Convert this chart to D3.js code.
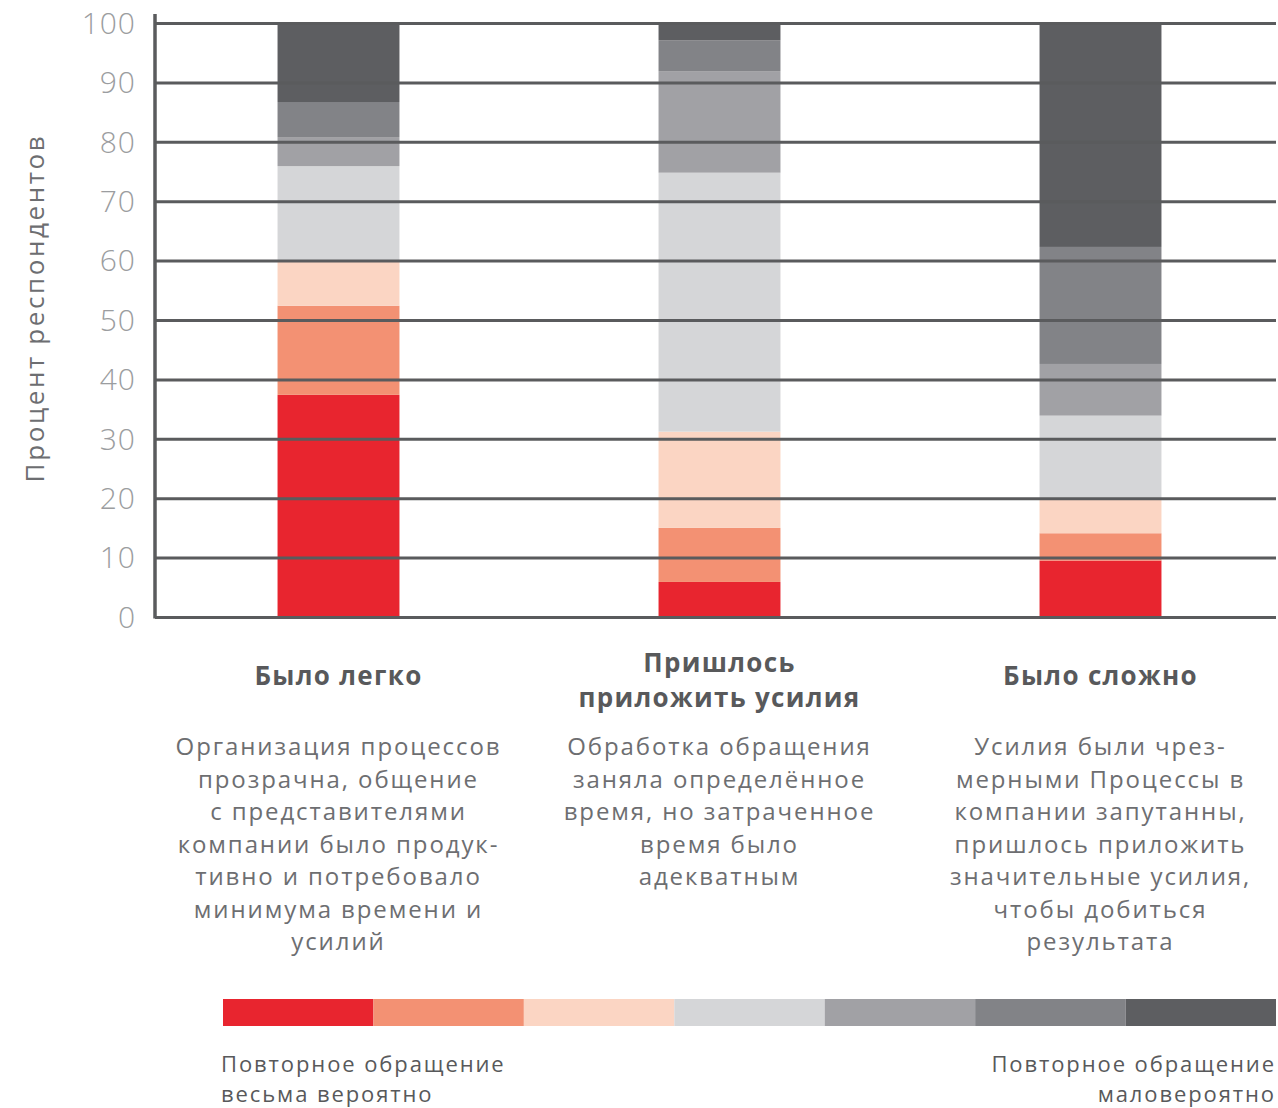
<!DOCTYPE html>
<html>
<head>
<meta charset="utf-8">
<script src="https://cdn.jsdelivr.net/npm/d3@7"></script>
<style>
  body { margin: 0; background: #fff; }
  svg text { font-family: "Open Sans", "DejaVu Sans", sans-serif; }
</style>
</head>
<body>
<svg id="chart" width="1278" height="1108"></svg>
<script>
// categories and stacked shares (bottom to top, %)
var categories = ["Было легко", "Пришлось приложить усилия", "Было сложно"];
var levels = ["l1", "l2", "l3", "l4", "l5", "l6", "l7"];
var easyValues   = [37.4, 15.0, 7.5, 16.0, 4.9, 5.9, 13.3];
var effortValues = [5.9, 9.1, 16.2, 43.6, 17.1, 5.2, 2.9];
var hardValues   = [9.5, 4.6, 5.6, 14.2, 8.7, 19.7, 37.7];
var yTicks = [0, 10, 20, 30, 40, 50, 60, 70, 80, 90, 100];
var levelColors = ["#e8252f", "#f39173", "#fbd5c3", "#d5d6d8", "#a1a1a5", "#828387", "#5d5e61"];

var titles = [["Было легко"], ["Пришлось", "приложить усилия"], ["Было сложно"]];
var descriptions = [
  ["Организация процессов", "прозрачна, общение", "с представителями", "компании было продук-", "тивно и потребовало", "минимума времени и", "усилий"],
  ["Обработка обращения", "заняла определённое", "время, но затраченное", "время было", "адекватным"],
  ["Усилия были чрез-", "мерными Процессы в", "компании запутанны,", "пришлось приложить", "значительные усилия,", "чтобы добиться", "результата"]
];
var legendLeft = ["Повторное обращение", "весьма вероятно"];
var legendRight = ["Повторное обращение", "маловероятно"];

var svg = d3.select("#chart");
var plotLeft = 155, plotRight = 1276, plotTop = 23, plotBottom = 617;

var table = [easyValues, effortValues, hardValues].map(function(vals, i) {
  var row = { cat: categories[i] };
  levels.forEach(function(l, j) { row[l] = vals[j]; });
  return row;
});
var series = d3.stack().keys(levels)(table);

var x = d3.scaleBand().domain(categories).range([148, 1291]).paddingInner(0.68).paddingOuter(0.34);
var y = d3.scaleLinear().domain([0, 100]).range([plotBottom, plotTop]);
var color = d3.scaleOrdinal().domain(levels).range(levelColors);

// bars
svg.append("g").selectAll("g")
  .data(series).join("g")
  .attr("fill", function(d) { return color(d.key); })
  .selectAll("rect")
  .data(function(d) { return d; }).join("rect")
  .attr("x", function(d) { return x(d.data.cat); })
  .attr("width", x.bandwidth())
  .attr("y", function(d) { return y(d[1]); })
  .attr("height", function(d) { return y(d[0]) - y(d[1]); });

// grid lines drawn over the bars
var grid = svg.append("g")
  .attr("transform", "translate(" + plotLeft + ",0)")
  .call(d3.axisLeft(y).tickValues(yTicks).tickSize(-(plotRight - plotLeft)).tickFormat(""));
grid.select(".domain").remove();
grid.selectAll("line").attr("stroke", "#5a5b5d").attr("stroke-width", 3);

// y axis line
svg.append("line")
  .attr("x1", plotLeft).attr("x2", plotLeft)
  .attr("y1", 14).attr("y2", plotBottom + 1.5)
  .attr("stroke", "#5a5b5d").attr("stroke-width", 3.5);

// tick labels
svg.append("g").selectAll("text")
  .data(yTicks).join("text")
  .attr("x", 136)
  .attr("y", function(d) { return y(d); })
  .attr("dy", "0.36em")
  .attr("text-anchor", "end")
  .attr("font-size", 30)
  .attr("font-weight", 300)
  .attr("letter-spacing", 1)
  .attr("fill", "#9b9da0")
  .text(function(d) { return d; });

// y axis title
svg.append("text")
  .attr("transform", "translate(44,308) rotate(-90)")
  .attr("text-anchor", "middle")
  .attr("font-size", 26)
  .attr("letter-spacing", 2.6)
  .attr("fill", "#6d6e71")
  .text("Процент респондентов");

// category titles and descriptions
var titleBase = [685, 672, 685];
categories.forEach(function(c, i) {
  var cx = x(c) + x.bandwidth() / 2;
  svg.append("g").selectAll("text")
    .data(titles[i]).join("text")
    .attr("x", cx)
    .attr("y", function(d, k) { return titleBase[i] + k * 35; })
    .attr("text-anchor", "middle")
    .attr("font-size", 26)
    .attr("font-weight", "bold")
    .attr("letter-spacing", 1.3)
    .attr("fill", "#58595b")
    .text(function(d) { return d; });

  svg.append("g").selectAll("text")
    .data(descriptions[i]).join("text")
    .attr("x", cx)
    .attr("y", function(d, k) { return 755 + k * 32.5; })
    .attr("text-anchor", "middle")
    .attr("font-size", 24)
    .attr("letter-spacing", 1.9)
    .attr("fill", "#6d6e71")
    .text(function(d) { return d; });
});

// legend strip
var lx = d3.scaleBand().domain(levels).range([223, 1276]);
svg.append("g").selectAll("rect")
  .data(levels).join("rect")
  .attr("x", function(d) { return lx(d); })
  .attr("y", 999)
  .attr("width", lx.bandwidth())
  .attr("height", 27)
  .attr("fill", function(d) { return color(d); });

svg.append("g").selectAll("text")
  .data(legendLeft).join("text")
  .attr("x", 221)
  .attr("y", function(d, k) { return 1072 + k * 30; })
  .attr("font-size", 22)
  .attr("letter-spacing", 1.9)
  .attr("fill", "#58595b")
  .text(function(d) { return d; });

svg.append("g").selectAll("text")
  .data(legendRight).join("text")
  .attr("x", 1276)
  .attr("y", function(d, k) { return 1072 + k * 30; })
  .attr("text-anchor", "end")
  .attr("font-size", 22)
  .attr("letter-spacing", 1.9)
  .attr("fill", "#58595b")
  .text(function(d) { return d; });
</script>
</body>
</html>
